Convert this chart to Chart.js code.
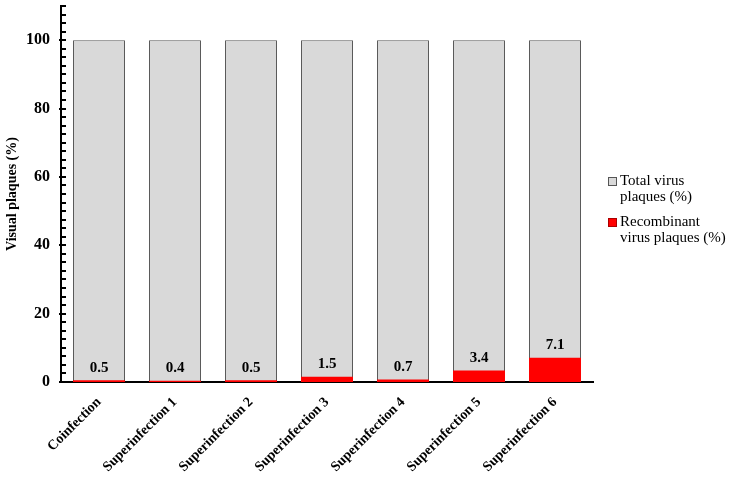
<!DOCTYPE html>
<html>
<head>
<meta charset="utf-8">
<script src="https://cdn.jsdelivr.net/npm/chart.js@4/dist/chart.umd.min.js"></script>
<style>
  html, body { margin: 0; padding: 0; background: #fff; }
  #wrap { position: relative; width: 731px; height: 478px; }
</style>
</head>
<body>
<div id="wrap"><canvas id="c" width="731" height="478"></canvas></div>
<script>
const categories = ['Coinfection', 'Superinfection 1', 'Superinfection 2', 'Superinfection 3', 'Superinfection 4', 'Superinfection 5', 'Superinfection 6'];
const totalPlaques = [100, 100, 100, 100, 100, 100, 100];
const recombinantPlaques = [0.5, 0.4, 0.5, 1.5, 0.7, 3.4, 7.1];
const yTickLabels = [0, 20, 40, 60, 80, 100];
const legendLabels = [['Total virus', 'plaques (%)'], ['Recombinant', 'virus plaques (%)']];

const SERIF = '"Liberation Serif", "Times New Roman", serif';

const innerTicks = {
  id: 'innerTicks',
  afterDatasetsDraw(chart) {
    const y = chart.scales.y, ctx = chart.ctx;
    const x0 = chart.chartArea.left;
    ctx.save();
    ctx.strokeStyle = '#000';
    ctx.lineWidth = 2;
    for (let v = 0; v <= 110 + 1e-6; v += 2.5) {
      const py = Math.round(y.getPixelForValue(v));
      const major = Math.abs(v % 20) < 1e-6;
      ctx.beginPath();
      ctx.moveTo(x0 - (major ? 2 : 0), py);
      ctx.lineTo(x0 + 5, py);
      ctx.stroke();
    }
    ctx.restore();
  }
};

const valueLabels = {
  id: 'valueLabels',
  afterDatasetsDraw(chart) {
    const ctx = chart.ctx;
    const meta = chart.getDatasetMeta(1);
    ctx.save();
    ctx.font = 'bold 15px ' + SERIF;
    ctx.fillStyle = '#000';
    ctx.textAlign = 'center';
    ctx.textBaseline = 'bottom';
    meta.data.forEach((bar, i) => {
      ctx.fillText(String(recombinantPlaques[i]), bar.x, bar.y - 5);
    });
    ctx.restore();
  }
};

const sideLegend = {
  id: 'sideLegend',
  afterDraw(chart) {
    const ctx = chart.ctx;
    const colors = [['#d9d9d9', '#555'], ['#ff0000', '#a00']];
    const tops = [177, 218];
    ctx.save();
    ctx.font = '15px ' + SERIF;
    ctx.textAlign = 'left';
    ctx.textBaseline = 'alphabetic';
    legendLabels.forEach((lines, i) => {
      ctx.fillStyle = colors[i][0];
      ctx.fillRect(608, tops[i], 8, 8);
      ctx.strokeStyle = colors[i][1];
      ctx.lineWidth = 1;
      ctx.strokeRect(608.5, tops[i] + 0.5, 8, 8);
      ctx.fillStyle = '#000';
      lines.forEach((t, k) => ctx.fillText(t, 620, tops[i] + 8 + k * 16));
    });
    ctx.restore();
  }
};

new Chart(document.getElementById('c'), {
  type: 'bar',
  data: {
    labels: categories,
    datasets: [
      {
        label: 'Total virus plaques (%)',
        data: totalPlaques,
        backgroundColor: '#d9d9d9',
        borderColor: '#595959',
        borderWidth: 1,
        order: 2
      },
      {
        label: 'Recombinant virus plaques (%)',
        data: recombinantPlaques,
        backgroundColor: '#ff0000',
        borderColor: '#c00000',
        borderWidth: 0,
        order: 1
      }
    ]
  },
  options: {
    responsive: false,
    animation: false,
    layout: { padding: { top: 6, right: 138, left: 4, bottom: 0 } },
    datasets: { bar: { categoryPercentage: 1, barPercentage: 0.684 } },
    plugins: { legend: { display: false }, tooltip: { enabled: false } },
    scales: {
      x: {
        stacked: true,
        afterFit(scale) {
          scale.paddingLeft = 0; scale.paddingRight = 0;
          scale.height = 96;
        },
        grid: { display: false, drawTicks: false },
        border: { display: true, color: '#000', width: 2 },
        ticks: {
          color: '#000',
          font: { family: SERIF, size: 14, weight: 'bold' },
          minRotation: 45, maxRotation: 45, padding: 12
        }
      },
      y: {
        stacked: false,
        min: 0, max: 110,
        afterBuildTicks(scale) {
          scale.ticks = yTickLabels.map(v => ({ value: v }));
        },
        afterFit(scale) {
          scale.paddingTop = 0; scale.paddingBottom = 0;
          scale.width = 57;
        },
        grid: { display: false, drawTicks: false },
        border: { display: true, color: '#000', width: 2 },
        ticks: {
          color: '#000',
          font: { family: SERIF, size: 16, weight: 'bold' },
          padding: 11
        },
        title: {
          display: true,
          text: 'Visual plaques (%)',
          color: '#000',
          font: { family: SERIF, size: 14, weight: 'bold' },
          padding: { top: 0, bottom: 5 }
        }
      }
    }
  },
  plugins: [innerTicks, valueLabels, sideLegend]
});
</script>
</body>
</html>
